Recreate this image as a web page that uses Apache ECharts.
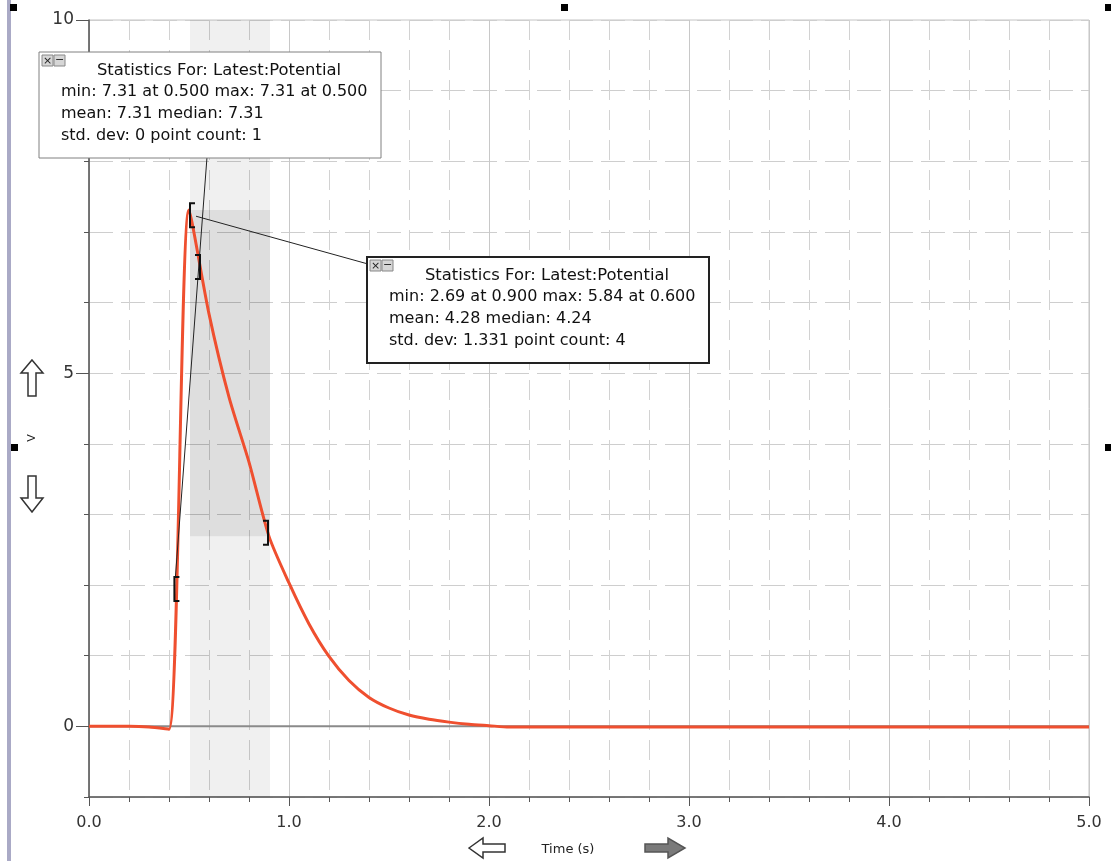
<!DOCTYPE html>
<html><head><meta charset="utf-8">
<script src="https://cdn.jsdelivr.net/npm/echarts@6/dist/echarts.min.js"></script>
<style>html,body{margin:0;padding:0;background:#fff}#c{width:1111px;height:861px}</style>
</head><body><div id="c"></div>
<script>
// ---- data ----
const times = [0.0,0.1,0.2,0.3,0.4,0.5,0.6,0.7,0.8,0.9,1.0,1.1,1.2,1.3,1.4,1.5,1.6,1.7,1.8,1.9,2.0,
  2.1,2.2,2.3,2.4,2.5,2.6,2.7,2.8,2.9,3.0,3.1,3.2,3.3,3.4,3.5,3.6,3.7,3.8,3.9,4.0,
  4.1,4.2,4.3,4.4,4.5,4.6,4.7,4.8,4.9,5.0];
const potential = [0.00,0.00,0.00,-0.01,-0.04,7.31,5.84,4.66,3.74,2.69,2.03,1.45,0.99,0.65,0.41,0.26,0.16,0.10,0.06,0.03,0.01,
  -0.01,-0.01,-0.01,-0.01,-0.01,-0.01,-0.01,-0.01,-0.01,-0.01,-0.01,-0.01,-0.01,-0.01,-0.01,-0.01,-0.01,-0.01,-0.01,-0.01,
  -0.01,-0.01,-0.01,-0.01,-0.01,-0.01,-0.01,-0.01,-0.01,-0.01];
const zeroLineX = [0, 5];
const yMajorTicks = [0, 5, 10];
const region1 = [0.427, 0.555];          // stats region of box 1 (time)
const region2 = [0.505, 0.905];          // stats region of box 2 (time)
const region2Range = [2.69, 7.31];       // shaded value range
const stats1 = ["Statistics For: Latest:Potential","min: 7.31 at 0.500 max: 7.31 at 0.500","mean: 7.31 median: 7.31","std. dev: 0 point count: 1"];
const stats2 = ["Statistics For: Latest:Potential","min: 2.69 at 0.900 max: 5.84 at 0.600","mean: 4.28 median: 4.24","std. dev: 1.331 point count: 4"];
const xAxisName = "Time (s)";
const yAxisName = "V";

const FONT = "DejaVu Sans";
const chart = echarts.init(document.getElementById('c'), null, {renderer:'canvas'});

const option = {
  animation: false,
  textStyle: {fontFamily: FONT},
  grid: {left: 89, right: 22, top: 20, bottom: 64, show: true, borderColor: '#c4c4c4', borderWidth: 1},
  xAxis: {
    type: 'value', min: 0, max: 5, interval: 1,
    axisLine: {onZero: false, lineStyle: {color: '#555', width: 1.5}},
    axisTick: {length: 9, lineStyle: {color: '#555'}},
    minorTick: {show: true, splitNumber: 5, length: 5, lineStyle: {color: '#555'}},
    axisLabel: {formatter: v => v.toFixed(1), fontFamily: FONT, fontSize: 16, color: '#333', margin: 18},
    splitLine: {show: true, lineStyle: {color: '#c8c8c8', width: 1}},
    minorSplitLine: {show: true, lineStyle: {color: '#d2d2d2', width: 1, type: [20, 10]}}
  },
  yAxis: [{
    type: 'value', min: -1, max: 10, interval: 1,
    axisLine: {show: true, lineStyle: {color: '#555', width: 1.5}},
    axisTick: {show: true, length: 5, lineStyle: {color: '#555'}},
    axisLabel: {show: false},
    splitLine: {show: true, lineStyle: {color: '#cecece', width: 1, type: [24, 8]}}
  }, {
    type: 'value', min: -1, max: 10, position: 'left',
    axisLine: {show: false},
    axisTick: {show: true, length: 13, customValues: yMajorTicks, lineStyle: {color: '#555'}},
    axisLabel: {customValues: yMajorTicks, fontFamily: FONT, fontSize: 17, color: '#333', margin: 15},
    splitLine: {show: false}
  }],
  series: [{
    name: 'zero', type: 'line', z: 1, silent: true, showSymbol: false,
    data: zeroLineX.map(x => [x, 0]),
    lineStyle: {color: '#8a8a8a', width: 2},
    markArea: {
      silent: true,
      data: [
        [{xAxis: region2[0], itemStyle: {color: 'rgba(0,0,0,0.06)'}}, {xAxis: region2[1]}],
        [{xAxis: region2[0], yAxis: region2Range[0], itemStyle: {color: 'rgba(0,0,0,0.08)'}}, {xAxis: region2[1], yAxis: region2Range[1]}]
      ]
    }
  }, {
    name: 'Potential', type: 'line', z: 5, showSymbol: false,
    smooth: 0.25,
    data: times.map((t, i) => [t, potential[i]]),
    lineStyle: {color: '#ef4f2f', width: 3}
  }]
};
chart.setOption(option);

function interp(t) {
  for (let i = 0; i < times.length - 1; i++) {
    if (t >= times[i] && t <= times[i + 1]) {
      const f = (t - times[i]) / (times[i + 1] - times[i]);
      return potential[i] + f * (potential[i + 1] - potential[i]);
    }
  }
  return 0;
}
function px(t, v) { return chart.convertToPixel({gridIndex: 0}, [t, v]); }

function bracket(t, open) {
  const p = px(t, interp(t));
  const h = 12, s = 5 * (open ? 1 : -1);
  return {type: 'polyline', z: 20, shape: {points: [[p[0] + s, p[1] - h], [p[0], p[1] - h], [p[0], p[1] + h], [p[0] + s, p[1] + h]]},
    style: {stroke: '#111', lineWidth: 2, fill: null}};
}

function statBox(L, T, lines, stroke, lw) {
  const Z = 40;
  const children = [
    {type: 'rect', z: Z, shape: {x: 0, y: 0, width: 342, height: 106}, style: {fill: '#fff', stroke: stroke, lineWidth: lw}},
    {type: 'rect', z: Z, shape: {x: 3, y: 3, width: 11, height: 11}, style: {fill: '#d6d6d6', stroke: '#888', lineWidth: 1}},
    {type: 'text', z: Z, x: 8.5, y: 9, style: {text: '×', fontFamily: FONT, fontSize: 11, fill: '#222', align: 'center', verticalAlign: 'middle'}},
    {type: 'rect', z: Z, shape: {x: 15, y: 3, width: 11, height: 11}, style: {fill: '#d6d6d6', stroke: '#888', lineWidth: 1}},
    {type: 'text', z: Z, x: 20.5, y: 8.5, style: {text: '−', fontFamily: FONT, fontSize: 11, fill: '#222', align: 'center', verticalAlign: 'middle'}},
    {type: 'text', z: Z, x: 180, y: 19, style: {text: lines[0], fontFamily: FONT, fontSize: 16.4, fill: '#111', align: 'center', verticalAlign: 'middle'}}
  ];
  for (let i = 1; i < lines.length; i++) {
    children.push({type: 'text', z: Z, x: 22, y: 40 + (i - 1) * 22, style: {text: lines[i], fontFamily: FONT, fontSize: 16, fill: '#111', align: 'left', verticalAlign: 'middle'}});
  }
  return {type: 'group', x: L, y: T, z: Z, children: children};
}

function poly(points, fill, stroke) {
  return {type: 'polygon', z: 10, shape: {points: points}, style: {fill: fill, stroke: stroke, lineWidth: 1.5}};
}

const b1s = px(region1[0], interp(region1[0]));
const b2s = px(region2[0], interp(region2[0]));

const graphics = [
  {type: 'rect', z: 10, shape: {x: 7, y: 0, width: 4, height: 861}, style: {fill: '#aaaac6'}},
  {type: 'rect', z: 10, shape: {x: 10, y: 4, width: 7, height: 7}, style: {fill: '#000'}},
  {type: 'rect', z: 10, shape: {x: 11, y: 444, width: 7, height: 7}, style: {fill: '#000'}},
  {type: 'rect', z: 10, shape: {x: 561, y: 4, width: 7, height: 7}, style: {fill: '#000'}},
  {type: 'rect', z: 10, shape: {x: 1105, y: 4, width: 7, height: 7}, style: {fill: '#000'}},
  {type: 'rect', z: 10, shape: {x: 1105, y: 444, width: 7, height: 7}, style: {fill: '#000'}},
  poly([[32,360],[43,373],[36,373],[36,396],[28,396],[28,373],[21,373]], '#fff', '#333'),
  poly([[28,476],[36,476],[36,498],[43,498],[32,512],[21,498],[28,498]], '#fff', '#333'),
  poly([[469,848],[483,838],[483,844],[505,844],[505,852],[483,852],[483,858]], '#fff', '#333'),
  poly([[645,844],[668,844],[668,838],[685,848],[668,858],[668,852],[645,852]], '#7a7a7a', '#555'),
  {type: 'text', z: 10, x: 568, y: 850, style: {text: xAxisName, fontFamily: FONT, fontSize: 13, fill: '#222', align: 'center', verticalAlign: 'middle'}},
  {type: 'text', z: 10, x: 32, y: 438, rotation: Math.PI / 2, style: {text: yAxisName, fontFamily: FONT, fontSize: 11, fill: '#222', align: 'center', verticalAlign: 'middle'}},
  {type: 'line', z: 15, shape: {x1: 207, y1: 157, x2: b1s[0] + 1, y2: b1s[1] - 12}, style: {stroke: '#222', lineWidth: 1}},
  {type: 'line', z: 15, shape: {x1: 368, y1: 264, x2: b2s[0] + 6, y2: b2s[1] + 1}, style: {stroke: '#222', lineWidth: 1}},
  bracket(region1[0], true), bracket(region1[1], false),
  bracket(region2[0], true), bracket(region2[1] - 0.01, false),
  statBox(39, 52, stats1, '#808080', 1),
  statBox(367, 257, stats2, '#222', 2)
];
chart.setOption({graphic: graphics});
</script>
</body></html>
